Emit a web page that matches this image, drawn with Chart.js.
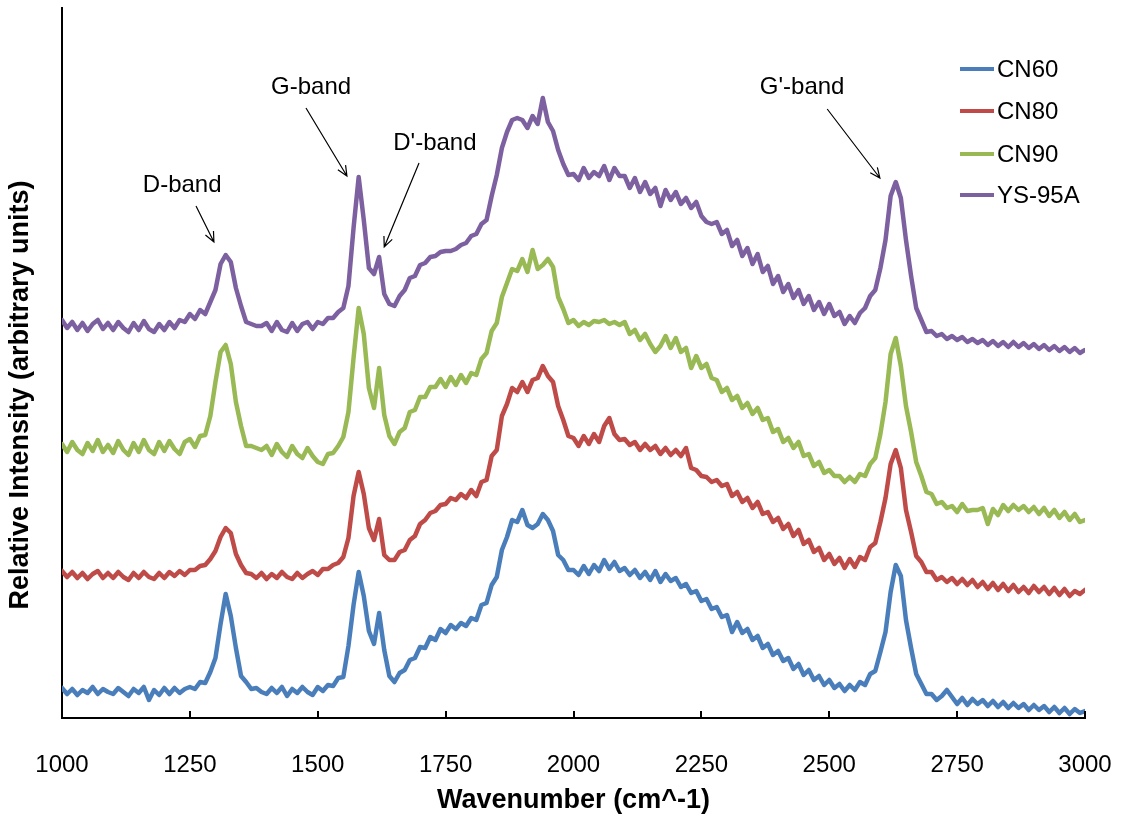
<!DOCTYPE html>
<html>
<head>
<meta charset="utf-8">
<script src="https://cdn.jsdelivr.net/npm/chart.js@4.4.0/dist/chart.umd.min.js"></script>
<style>
  html, body { margin: 0; padding: 0; background: #fff; }
</style>
</head>
<body>
<canvas id="chart" width="1126" height="820"></canvas>
<script>
// wavenumber grid (cm^-1)
const wavenumbers = [
  1000,1010,1020,1030,1040,1050,1060,1070,1080,1090,
  1100,1110,1120,1130,1140,1150,1160,1170,1180,1190,
  1200,1210,1220,1230,1240,1250,1260,1270,1280,1290,
  1300,1310,1320,1330,1340,1350,1360,1370,1380,1390,
  1400,1410,1420,1430,1440,1450,1460,1470,1480,1490,
  1500,1510,1520,1530,1540,1550,1560,1570,1580,1590,
  1600,1610,1620,1630,1640,1650,1660,1670,1680,1690,
  1700,1710,1720,1730,1740,1750,1760,1770,1780,1790,
  1800,1810,1820,1830,1840,1850,1860,1870,1880,1890,
  1900,1910,1920,1930,1940,1950,1960,1970,1980,1990,
  2000,2010,2020,2030,2040,2050,2060,2070,2080,2090,
  2100,2110,2120,2130,2140,2150,2160,2170,2180,2190,
  2200,2210,2220,2230,2240,2250,2260,2270,2280,2290,
  2300,2310,2320,2330,2340,2350,2360,2370,2380,2390,
  2400,2410,2420,2430,2440,2450,2460,2470,2480,2490,
  2500,2510,2520,2530,2540,2550,2560,2570,2580,2590,
  2600,2610,2620,2630,2640,2650,2660,2670,2680,2690,
  2700,2710,2720,2730,2740,2750,2760,2770,2780,2790,
  2800,2810,2820,2830,2840,2850,2860,2870,2880,2890,
  2900,2910,2920,2930,2940,2950,2960,2970,2980,2990,
  3000
];

const seriesNames = ['CN60', 'CN80', 'CN90', 'YS-95A'];

// relative intensity (arbitrary units, traces offset as in the plot)
const cn60 = [
  30,24,29,23,28,25,31,24,29,26,
  24,30,26,22,29,25,31,18,28,23,
  30,24,30,25,29,31,29,36,35,46,
  60,94,124,102,70,42,36,29,30,26,
  24,30,25,31,22,29,25,31,26,23,
  31,27,33,32,40,41,72,113,146,122,
  87,74,105,68,42,36,45,48,58,60,
  71,70,81,78,89,85,93,89,95,92,
  100,98,113,115,133,141,168,181,198,196,
  208,193,190,194,204,198,187,163,158,148,
  148,143,152,144,153,147,158,149,156,147,
  150,143,148,140,146,138,147,136,144,137,
  140,131,134,125,127,117,119,109,111,101,
  103,86,96,85,89,78,82,70,74,63,
  67,57,60,49,54,43,48,38,42,33,
  38,30,34,27,33,28,36,33,44,47,
  66,86,126,153,142,98,70,44,34,24,
  24,18,22,28,21,14,20,13,19,14,
  18,12,17,11,16,10,15,10,14,8,
  13,8,12,6,11,5,10,4,9,5,
  7
];

const cn80 = [
  147,141,146,140,145,139,144,147,140,145,
  140,146,141,138,145,140,146,141,139,145,
  140,146,142,147,143,148,148,152,153,159,
  167,181,190,185,164,153,145,144,140,145,
  139,144,140,146,141,139,145,140,144,147,
  143,149,149,153,155,161,180,222,246,224,
  190,178,199,163,158,158,166,168,178,182,
  194,198,205,207,213,214,220,218,224,220,
  228,222,236,238,262,268,302,314,330,326,
  336,326,338,340,352,342,336,312,298,282,
  280,272,282,274,284,276,292,300,284,278,
  279,273,276,268,274,268,272,264,270,263,
  268,262,270,250,248,242,241,236,238,232,
  234,222,226,216,220,210,216,204,206,196,
  200,189,194,182,188,174,178,166,170,158,
  164,154,160,150,159,151,161,158,171,175,
  196,220,254,268,250,208,186,162,156,146,
  146,138,141,136,140,134,139,133,138,131,
  136,129,135,128,134,127,133,126,131,125,
  132,126,131,124,130,123,129,122,127,124,
  128
];

const cn90 = [
  274,266,276,268,264,275,267,278,266,273,
  265,277,268,263,275,266,278,268,264,276,
  267,277,269,264,276,279,271,282,283,302,
  336,366,373,354,316,292,272,272,270,268,
  272,263,274,266,261,272,264,260,270,262,
  256,254,264,265,272,281,306,360,410,384,
  330,310,350,303,282,274,286,290,306,308,
  321,321,331,331,339,331,341,333,343,335,
  345,343,359,365,387,395,421,435,449,447,
  459,446,468,449,453,459,451,421,409,395,
  398,392,396,393,397,396,398,394,396,393,
  396,384,388,378,384,374,366,372,382,370,
  380,366,370,350,362,350,354,340,338,326,
  330,318,322,310,315,304,310,298,300,286,
  289,276,280,270,276,262,264,252,256,245,
  248,242,242,236,241,236,244,242,254,260,
  284,316,364,380,352,312,286,256,242,226,
  224,214,216,210,212,206,214,207,208,208,
  210,194,209,203,213,207,213,208,212,206,
  211,204,210,202,208,200,206,198,204,196,
  198
];

const ys95a = [
  398,390,396,388,395,387,394,398,389,395,
  388,396,390,386,395,388,397,389,386,394,
  388,396,390,398,396,404,399,408,404,416,
  428,454,463,456,430,412,396,394,392,392,
  395,387,396,388,386,395,387,394,396,389,
  396,394,400,400,406,410,432,490,541,498,
  450,444,461,424,414,412,422,428,440,442,
  453,455,461,462,466,467,467,469,473,475,
  482,484,494,498,522,543,570,586,598,600,
  598,590,602,594,620,596,587,568,554,543,
  544,538,550,540,546,542,552,538,550,542,
  542,530,540,526,536,524,530,512,528,518,
  526,514,520,510,516,502,496,494,496,484,
  488,472,478,462,470,454,464,446,452,434,
  442,426,434,420,428,414,422,408,416,404,
  414,402,406,394,402,395,405,410,422,428,
  450,478,522,536,520,478,442,410,398,386,
  387,382,384,379,382,378,381,376,379,375,
  378,373,377,372,376,371,376,371,375,370,
  374,369,373,368,372,367,371,366,370,365,
  368
];

const xTicks = [1000, 1250, 1500, 1750, 2000, 2250, 2500, 2750, 3000];

// band callouts: label, text anchor, arrow tail, arrow head (data coords)
const bandNotes = [
  { text: 'D-band',  at: [1235, 533], from: [1262, 512], to: [1297, 476] },
  { text: 'G-band',  at: [1487, 631], from: [1477, 610], to: [1557, 542] },
  { text: "D'-band", at: [1729, 575], from: [1698, 555], to: [1630, 471] },
  { text: "G'-band", at: [2447, 631], from: [2496, 609], to: [2599, 540] }
];

const colors = ['#4A7EBB', '#BE4B48', '#98B954', '#7D60A0'];
const FONT = "'Liberation Sans', Arial, sans-serif";

const series = [cn60, cn80, cn90, ys95a];
const datasets = series.map((vals, i) => ({
  label: seriesNames[i],
  data: wavenumbers.map((w, j) => ({ x: w, y: vals[j] })),
  borderColor: colors[i],
  backgroundColor: colors[i],
  borderWidth: 4.5,
  borderJoinStyle: 'round',
  borderCapStyle: 'round',
  pointRadius: 0,
  tension: 0,
  fill: false
}));

function arrow(ctx, x1, y1, x2, y2) {
  const ang = Math.atan2(y2 - y1, x2 - x1);
  const head = 11, spread = 0.42;
  ctx.beginPath();
  ctx.moveTo(x1, y1);
  ctx.lineTo(x2, y2);
  ctx.moveTo(x2 - head * Math.cos(ang - spread), y2 - head * Math.sin(ang - spread));
  ctx.lineTo(x2, y2);
  ctx.lineTo(x2 - head * Math.cos(ang + spread), y2 - head * Math.sin(ang + spread));
  ctx.stroke();
}

const overlay = {
  id: 'overlay',
  afterDraw(chart) {
    const { ctx, chartArea } = chart;
    const x = chart.scales.x, y = chart.scales.y;
    ctx.save();

    // inward tick marks on the x axis
    ctx.strokeStyle = '#000';
    ctx.lineWidth = 2;
    xTicks.forEach(v => {
      const px = Math.round(x.getPixelForValue(v));
      ctx.beginPath();
      ctx.moveTo(px, chartArea.bottom);
      ctx.lineTo(px, chartArea.bottom - 7);
      ctx.stroke();
    });

    // band callouts
    ctx.fillStyle = '#000';
    ctx.font = '24px ' + FONT;
    ctx.textAlign = 'center';
    ctx.textBaseline = 'middle';
    ctx.lineWidth = 1.2;
    bandNotes.forEach(n => {
      ctx.fillText(n.text, x.getPixelForValue(n.at[0]), y.getPixelForValue(n.at[1]));
      arrow(ctx,
        x.getPixelForValue(n.from[0]), y.getPixelForValue(n.from[1]),
        x.getPixelForValue(n.to[0]), y.getPixelForValue(n.to[1]));
    });

    // legend, top right inside the plot
    ctx.textAlign = 'left';
    const legY = [69, 111, 154, 195];
    chart.data.datasets.forEach((ds, i) => {
      ctx.strokeStyle = ds.borderColor;
      ctx.lineWidth = 4;
      ctx.beginPath();
      ctx.moveTo(960, legY[i]);
      ctx.lineTo(994, legY[i]);
      ctx.stroke();
      ctx.fillStyle = '#000';
      ctx.fillText(ds.label, 997, legY[i] + 1);
    });

    // axis titles
    ctx.font = 'bold 27px ' + FONT;
    ctx.textAlign = 'center';
    ctx.fillText('Wavenumber (cm^-1)', (chartArea.left + chartArea.right) / 2, 801);
    ctx.translate(21, 395);
    ctx.rotate(-Math.PI / 2);
    ctx.fillText('Relative Intensity (arbitrary units)', 0, 0);

    ctx.restore();
  }
};

new Chart(document.getElementById('chart').getContext('2d'), {
  type: 'line',
  data: { datasets: datasets },
  options: {
    responsive: false,
    animation: false,
    devicePixelRatio: 1,
    layout: { padding: { top: 8, right: 41, left: 0, bottom: 0 } },
    plugins: {
      legend: { display: false },
      tooltip: { enabled: false }
    },
    scales: {
      x: {
        type: 'linear',
        min: 1000,
        max: 3000,
        afterBuildTicks: (scale) => { scale.ticks = xTicks.map(v => ({ value: v })); },
        afterFit: (scale) => {
          scale.height = 102;
          scale.paddingLeft = 0;
          scale.paddingRight = 0;
        },
        grid: { display: true, drawOnChartArea: false, drawTicks: false },
        border: { display: true, color: '#000', width: 2 },
        ticks: {
          color: '#000',
          padding: 33,
          maxRotation: 0,
          autoSkip: false,
          font: { family: FONT, size: 24 },
          callback: (v) => String(v)
        }
      },
      y: {
        type: 'linear',
        min: 0,
        max: 710,
        afterFit: (scale) => { scale.width = 62; },
        grid: { display: true, drawOnChartArea: false, drawTicks: false },
        border: { display: true, color: '#000', width: 2 },
        ticks: { display: false }
      }
    }
  },
  plugins: [overlay]
});
</script>
</body>
</html>
